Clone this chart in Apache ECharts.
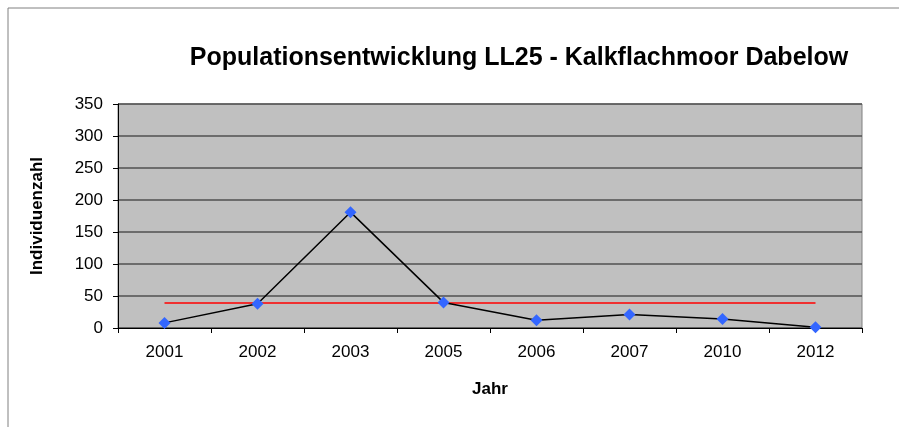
<!DOCTYPE html>
<html>
<head>
<meta charset="utf-8">
<script src="https://cdn.jsdelivr.net/npm/echarts@6/dist/echarts.min.js"></script>
<style>
  html, body { margin: 0; padding: 0; background: #fff; }
  #myChart { width: 899px; height: 427px; }
</style>
</head>
<body>
<div id="myChart"></div>
<script>
// Daten
var jahre = ['2001', '2002', '2003', '2005', '2006', '2007', '2010', '2012']
var individuen = [8, 38, 181, 40, 12, 21, 14, 1]
var mittelwert = [39, 39, 39, 39, 39, 39, 39, 39]
var yTicks = [0, 50, 100, 150, 200, 250, 300, 350]

var myChart = echarts.init(document.getElementById('myChart'))
var font = 'Liberation Sans, Arial, sans-serif'

myChart.setOption({
    animation: false,
    backgroundColor: '#fff',
    title: {
        text: 'Populationsentwicklung LL25 - Kalkflachmoor Dabelow',
        left: 514,
        top: 41,
        textAlign: 'center',
        textStyle: { fontFamily: font, fontSize: 25, fontWeight: 'bold', color: '#000' }
    },
    graphic: [{
        type: 'rect',
        shape: { x: 8, y: 8, width: 1000, height: 1000 },
        style: { fill: 'none', stroke: '#808080', lineWidth: 1 },
        silent: true
    }],
    grid: {
        left: 118, right: 37, top: 104, bottom: 99,
        show: true, backgroundColor: '#c0c0c0', borderColor: '#808080', borderWidth: 1
    },
    xAxis: {
        type: 'category',
        data: jahre,
        boundaryGap: true,
        name: 'Jahr',
        nameLocation: 'middle',
        nameGap: 53,
        nameTextStyle: { fontFamily: font, fontSize: 17, fontWeight: 'bold', color: '#000' },
        axisLine: { lineStyle: { color: '#000', width: 1 } },
        axisTick: { show: true, length: 5, lineStyle: { color: '#000' } },
        axisLabel: { fontFamily: font, fontSize: 17, color: '#000', margin: 16 }
    },
    yAxis: {
        type: 'value',
        min: yTicks[0],
        max: yTicks[yTicks.length - 1],
        interval: 50,
        name: 'Individuenzahl',
        nameLocation: 'middle',
        nameGap: 72,
        nameTextStyle: { fontFamily: font, fontSize: 17, fontWeight: 'bold', color: '#000' },
        axisLine: { show: true, lineStyle: { color: '#000', width: 1 } },
        axisTick: { show: true, length: 5, lineStyle: { color: '#000' } },
        axisLabel: { fontFamily: font, fontSize: 17, color: '#000', margin: 15 },
        splitLine: { lineStyle: { color: '#505050', width: 1.5 } }
    },
    series: [
        {
            type: 'line',
            data: mittelwert,
            symbol: 'none',
            lineStyle: { color: '#ff0000', width: 1.5 },
            z: 2
        },
        {
            type: 'line',
            data: individuen,
            symbol: 'diamond',
            symbolSize: 12,
            itemStyle: { color: '#3366ff' },
            lineStyle: { color: '#000', width: 1.5 },
            z: 3
        }
    ]
})
</script>
</body>
</html>
